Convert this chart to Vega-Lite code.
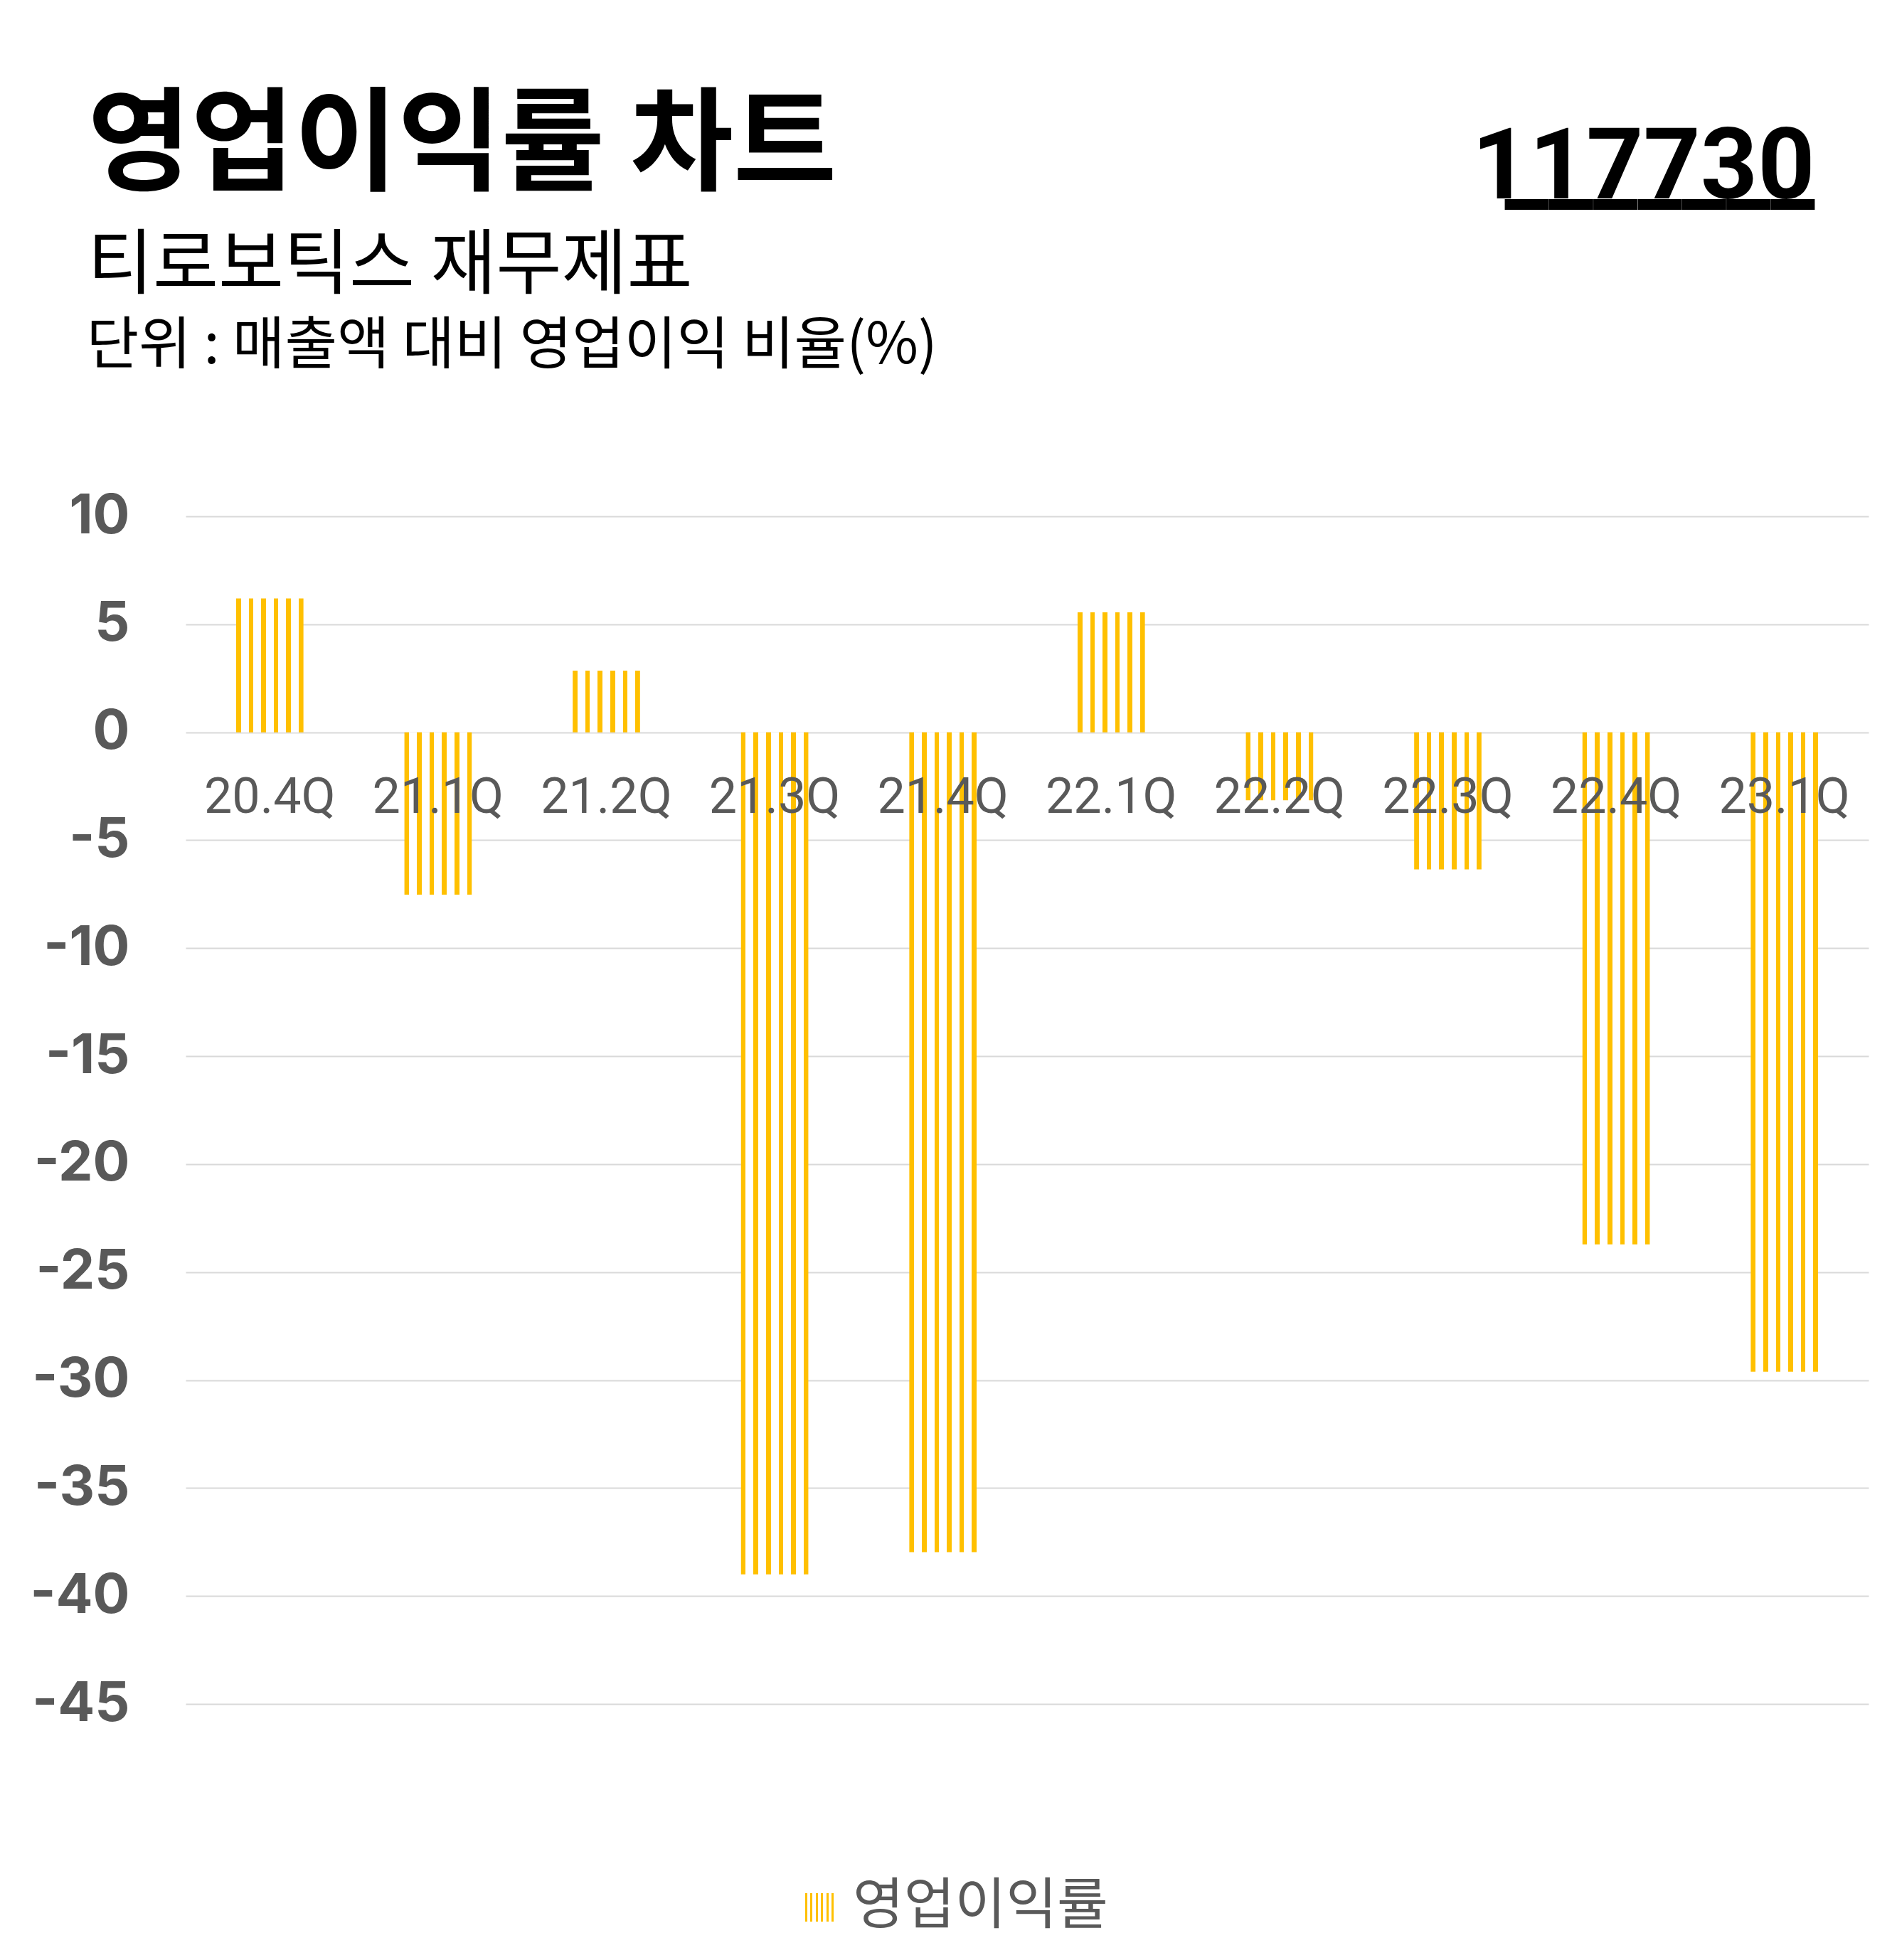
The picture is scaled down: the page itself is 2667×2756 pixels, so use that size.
{
  "$schema": "https://vega.github.io/schema/vega-lite/v6.json",
  "description": "영업이익률 차트 - 티로보틱스 (117730)",
  "width": 2366,
  "height": 1670,
  "autosize": "none",
  "padding": {"left": 261, "top": 726, "right": 40, "bottom": 360},
  "background": "#ffffff",
  "title": {
    "text": "영업이익률 차트",
    "subtitle": "티로보틱스 재무제표",
    "anchor": "start",
    "frame": "group",
    "orient": "top",
    "dx": -138,
    "offset": -260,
    "font": "Noto Sans CJK KR",
    "fontSize": 158,
    "fontWeight": "bold",
    "color": "#000000",
    "subtitleFont": "Noto Sans CJK KR",
    "subtitleFontSize": 100,
    "subtitleFontWeight": "normal",
    "subtitleColor": "#000000",
    "subtitlePadding": 38
  },
  "data": {
    "values": [
      {"quarter": "20.4Q", "margin": 6.2},
      {"quarter": "21.1Q", "margin": -7.52},
      {"quarter": "21.2Q", "margin": 2.85},
      {"quarter": "21.3Q", "margin": -39.0},
      {"quarter": "21.4Q", "margin": -37.97},
      {"quarter": "22.1Q", "margin": 5.55},
      {"quarter": "22.2Q", "margin": -3.15},
      {"quarter": "22.3Q", "margin": -6.35},
      {"quarter": "22.4Q", "margin": -23.72},
      {"quarter": "23.1Q", "margin": -29.61}
    ]
  },
  "mark": {
    "type": "bar",
    "strokeWidth": 0,
    "fill": {
      "gradient": "linear",
      "x1": 0, "y1": 0, "x2": 1, "y2": 0,
      "stops": [
        {"offset": 0, "color": "#FFC000"},
        {"offset": 0.07, "color": "#FFC000"},
        {"offset": 0.07, "color": "#ffffff"},
        {"offset": 0.186, "color": "#ffffff"},
        {"offset": 0.186, "color": "#FFC000"},
        {"offset": 0.256, "color": "#FFC000"},
        {"offset": 0.256, "color": "#ffffff"},
        {"offset": 0.372, "color": "#ffffff"},
        {"offset": 0.372, "color": "#FFC000"},
        {"offset": 0.442, "color": "#FFC000"},
        {"offset": 0.442, "color": "#ffffff"},
        {"offset": 0.558, "color": "#ffffff"},
        {"offset": 0.558, "color": "#FFC000"},
        {"offset": 0.628, "color": "#FFC000"},
        {"offset": 0.628, "color": "#ffffff"},
        {"offset": 0.744, "color": "#ffffff"},
        {"offset": 0.744, "color": "#FFC000"},
        {"offset": 0.814, "color": "#FFC000"},
        {"offset": 0.814, "color": "#ffffff"},
        {"offset": 0.93, "color": "#ffffff"},
        {"offset": 0.93, "color": "#FFC000"},
        {"offset": 1, "color": "#FFC000"}
      ]
    }
  },
  "encoding": {
    "x": {
      "field": "quarter",
      "type": "nominal",
      "sort": null,
      "scale": {"paddingInner": 0.6, "paddingOuter": 0.3},
      "axis": {
        "orient": "bottom",
        "offset": -1366,
        "zindex": 1,
        "domain": false,
        "ticks": false,
        "tickSize": 0,
        "grid": false,
        "labelAngle": 0,
        "labelFont": "Roboto",
        "labelFontSize": 70,
        "labelColor": "#595959",
        "labelBaseline": "alphabetic",
        "labelPadding": 112,
        "labelOverlap": false,
        "labelLimit": 0,
        "title": ["117730", "_______"],
        "titleFont": "Roboto",
        "titleFontSize": 140,
        "titleFontWeight": "bold",
        "titleColor": "#000000",
        "titleAlign": "right",
        "titleAnchor": "end",
        "titleBaseline": "alphabetic",
        "titleLineHeight": 1,
        "titleX": 2290,
        "titleY": -752
      }
    },
    "y": {
      "field": "margin",
      "type": "quantitative",
      "scale": {"domain": [-45, 10], "nice": false},
      "axis": {
        "values": [-45, -40, -35, -30, -25, -20, -15, -10, -5, 0, 5, 10],
        "labelExpr": "'' + datum.value",
        "domain": false,
        "ticks": false,
        "grid": true,
        "gridColor": "#d9d9d9",
        "gridWidth": 2,
        "labelFont": "Inter",
        "labelFontWeight": "bold",
        "labelFontSize": 77,
        "labelColor": "#595959",
        "labelPadding": 79,
        "title": "단위 : 매출액 대비 영업이익 비율(%)",
        "titleFont": "Noto Sans CJK KR",
        "titleFontSize": 80,
        "titleFontWeight": "normal",
        "titleColor": "#000000",
        "titleAngle": 0,
        "titleAlign": "left",
        "titleBaseline": "alphabetic",
        "titleX": -140,
        "titleY": -216
      }
    },
    "stroke": {
      "datum": "영업이익률",
      "type": "nominal",
      "scale": {"range": ["#FFC000"]},
      "legend": {
        "orient": "none",
        "legendX": 852,
        "legendY": 1917,
        "title": null,
        "padding": 0,
        "symbolType": "square",
        "symbolSize": 1600,
        "symbolStrokeWidth": 0,
        "labelFont": "Noto Sans CJK KR",
        "labelFontSize": 78,
        "labelColor": "#595959",
        "labelOffset": 8,
        "labelLimit": 0,
        "encode": {
          "symbols": {
            "update": {
              "fill": {
                "value": {
                  "gradient": "linear",
                  "x1": 0, "y1": 0, "x2": 1, "y2": 0,
                  "stops": [
                    {"offset": 0, "color": "#FFC000"},
                    {"offset": 0.16, "color": "#FFC000"},
                    {"offset": 0.16, "color": "#ffffff"},
                    {"offset": 0.42, "color": "#ffffff"},
                    {"offset": 0.42, "color": "#FFC000"},
                    {"offset": 0.58, "color": "#FFC000"},
                    {"offset": 0.58, "color": "#ffffff"},
                    {"offset": 0.84, "color": "#ffffff"},
                    {"offset": 0.84, "color": "#FFC000"},
                    {"offset": 1, "color": "#FFC000"}
                  ]
                }
              },
              "fillOpacity": {"value": 1},
              "strokeWidth": {"value": 0}
            }
          }
        }
      }
    }
  },
  "config": {
    "view": {"stroke": null}
  }
}
